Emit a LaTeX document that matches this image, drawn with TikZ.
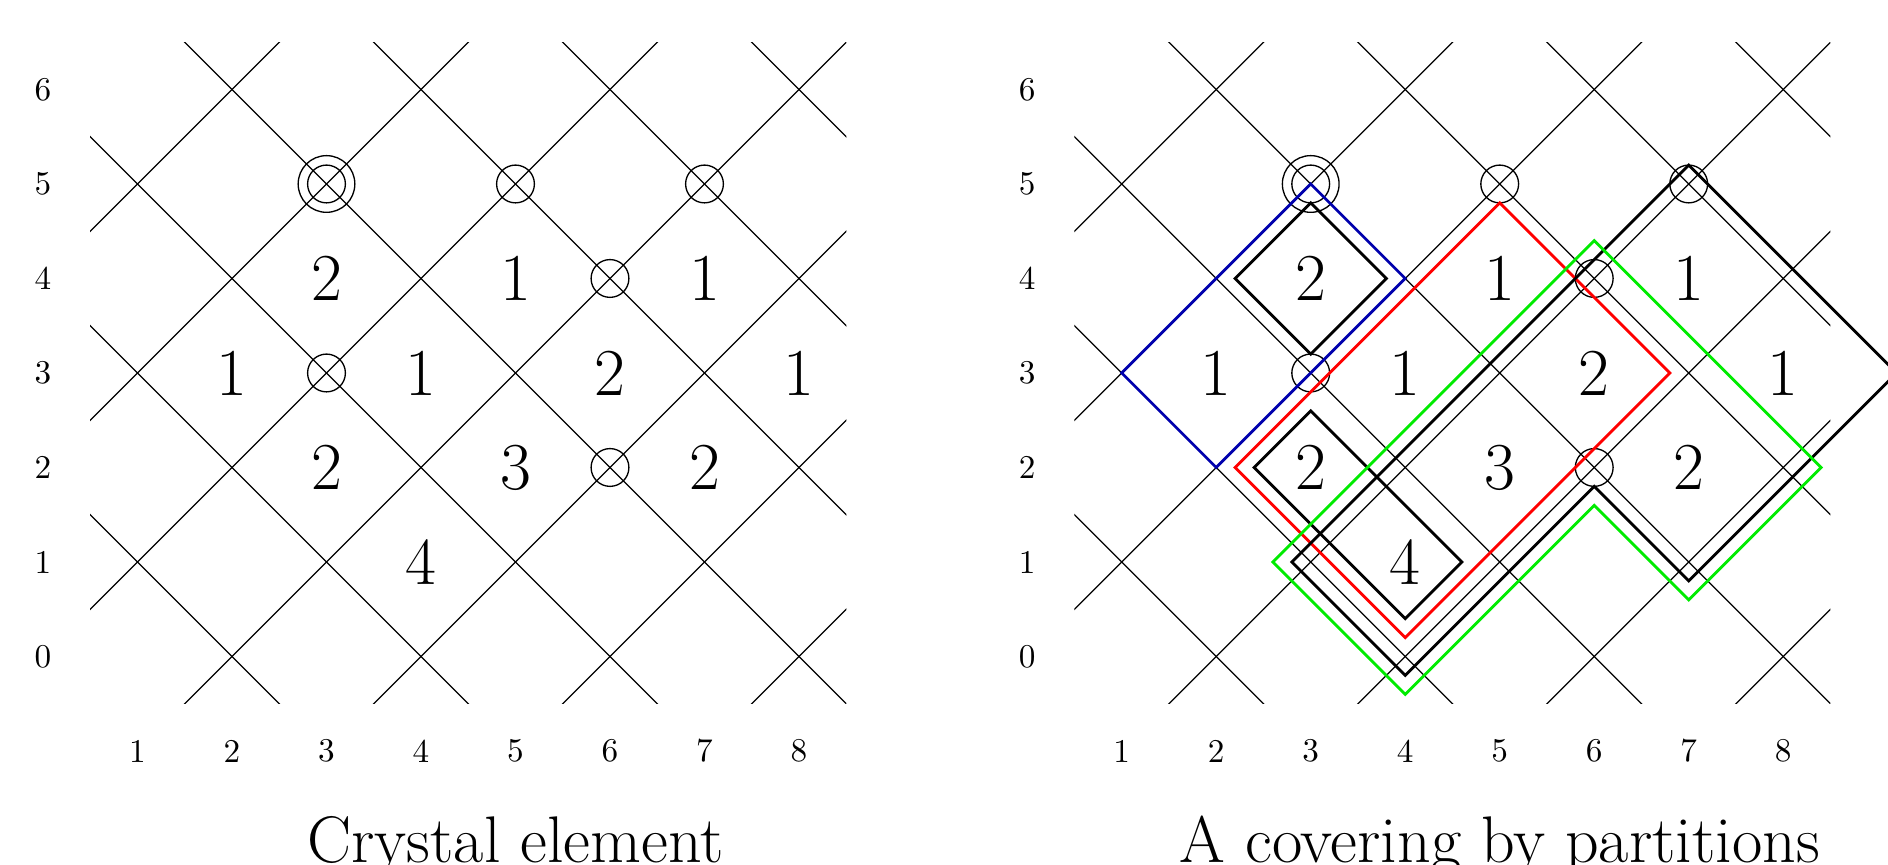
\documentclass[tikz,border=0pt]{standalone}
\definecolor{partblue}{rgb}{0,0,0.68}
\definecolor{partgreen}{rgb}{0,0.92,0}
\definecolor{partred}{rgb}{1,0,0}
\begin{document}
\begin{tikzpicture}[
  gridline/.style={line width=0.4pt, black},
  ring/.style={line width=0.4pt, black},
  partline/.style={line width=0.85pt, line join=miter},
  cellnum/.style={font=\fontsize{20.2}{24}\selectfont, inner sep=0pt},
  axislabel/.style={font=\normalsize, inner sep=0pt},
  captext/.style={font=\fontsize{19.85}{24}\selectfont, anchor=base, inner sep=0pt}
]
\useasboundingbox (-0.455,-2.196) rectangle (19.524,6.947);
\foreach \sx/\nm/\cap in {0/L/Crystal element, 10.415/R/A covering by partitions} {
  \begin{scope}[xshift=\sx cm]
    \begin{scope}
      \clip (0.5,-0.5) rectangle (8.5,6.5);
      \foreach \c in {2,4,...,14} \draw[gridline] (\c+1,-1) -- (\c-7,7);
      \foreach \d in {-4,-2,...,8} \draw[gridline] (\d-1,-1) -- (\d+7,7);
    \end{scope}
    \foreach \i in {1,...,8} \node[axislabel] (\nm-x\i) at (\i,-1) {\i};
    \foreach \j in {0,...,6} \node[axislabel] (\nm-y\j) at (0,\j) {\j};
    \foreach \x/\y/\v in {3/4/2, 5/4/1, 7/4/1, 2/3/1, 4/3/1, 6/3/2, 8/3/1, 3/2/2, 5/2/3, 7/2/2, 4/1/4}
      \node[cellnum] (\nm-c\x\y) at (\x,\y) {\v};
    \foreach \x/\y in {3/5, 5/5, 7/5, 6/4, 3/3, 6/2}
      \draw[ring] (\x,\y) circle (0.2);
    \draw[ring] (3,5) circle (0.3);
    \node[captext] (\nm-cap) at (5,-2.178) {\cap};
  \end{scope}
}
\begin{scope}[xshift=10.415cm]
  \draw[partline, partblue] (1,3) -- (3,5) -- (4,4) -- (2,2) -- cycle;
  \draw[partline, black] (2.2,4) -- (3,4.8) -- (3.8,4) -- (3,3.2) -- cycle;
  \draw[partline, black] (2.4,2) -- (3,2.6) -- (4.6,1) -- (4,0.4) -- cycle;
  \draw[partline, partred] (2.2,2) -- (5,4.8) -- (6.8,3) -- (4,0.2) -- cycle;
  \draw[partline, black] (2.8,1) -- (7,5.2) -- (9.2,3) -- (7,0.8) -- (6,1.8) -- (4,-0.2) -- cycle;
  \draw[partline, partgreen] (2.6,1) -- (6,4.4) -- (8.4,2) -- (7,0.6) -- (6,1.6) -- (4,-0.4) -- cycle;
\end{scope}
\end{tikzpicture}
\end{document}
